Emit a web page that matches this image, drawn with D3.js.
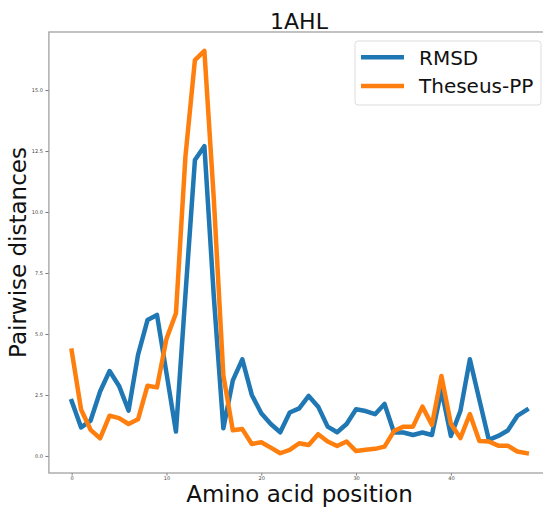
<!DOCTYPE html>
<html>
<head>
<meta charset="utf-8">
<script src="https://cdn.jsdelivr.net/npm/d3@7"></script>
<style>
html,body{margin:0;padding:0;background:#fff;}
svg{display:block;}
</style>
</head>
<body>
<svg id="chart" width="543" height="512"></svg>
<script>
const positions = [0,1,2,3,4,5,6,7,8,9,10,11,12,13,14,15,16,17,18,19,20,21,22,23,24,25,26,27,28,29,30,31,32,33,34,35,36,37,38,39,40,41,42,43,44,45,46,47,48];
const rmsd = [2.25,1.17,1.45,2.64,3.48,2.87,1.86,4.14,5.57,5.78,3.4,1.0,6.6,12.13,12.7,6.5,1.13,3.1,3.96,2.5,1.75,1.31,0.97,1.78,1.95,2.46,2.02,1.2,0.97,1.31,1.91,1.84,1.71,2.13,0.96,0.96,0.86,0.96,0.86,2.7,0.82,1.84,3.96,2.3,0.66,0.82,1.04,1.64,1.89];
const theseus = [4.32,1.89,1.07,0.72,1.65,1.55,1.31,1.5,2.88,2.81,4.8,5.85,12.27,16.23,16.61,10.5,3.3,1.05,1.1,0.49,0.56,0.34,0.11,0.25,0.52,0.45,0.89,0.59,0.41,0.59,0.2,0.25,0.29,0.38,1.02,1.2,1.2,2.02,1.27,3.28,1.31,0.73,1.72,0.61,0.59,0.42,0.42,0.18,0.11];
const xTicks = [0,10,20,30,40];
const yTicks = [0,2.5,5,7.5,10,12.5,15];
const seriesNames = ["RMSD","Theseus-PP"];
const colors = ["#1f77b4","#ff7f0e"];
const title = "1AHL";
const xLabel = "Amino acid position";
const yLabel = "Pairwise distances";

const svg = d3.select("#chart");
const L = 48.9, R = 549.5, T = 32, B = 473;
const x = d3.scaleLinear().domain([-2.4, 50.4]).range([L, R]);
const y = d3.scaleLinear().domain([-0.70, 17.38]).range([B, T]);
const font = "DejaVu Sans, sans-serif";

// axes
const xAxis = d3.axisBottom(x).tickValues(xTicks).tickFormat(d3.format("d")).tickSize(2.5).tickPadding(0.5);
const yAxis = d3.axisLeft(y).tickValues(yTicks).tickFormat(d3.format(".1f")).tickSize(3.5).tickPadding(2.5);
const gx = svg.append("g").attr("transform", `translate(0,${B})`).call(xAxis);
const gy = svg.append("g").attr("transform", `translate(${L},0)`).call(yAxis);
[gx, gy].forEach(g => {
  g.selectAll(".domain").remove();
  g.selectAll("line").attr("stroke", "#555").attr("stroke-width", 0.8);
  g.selectAll("text").attr("fill", "#444").style("font-family", font).style("font-size", "5px");
});

// frame
svg.append("rect").attr("x", L).attr("y", T).attr("width", R - L).attr("height", B - T)
  .attr("fill", "none").attr("stroke", "#999").attr("stroke-width", 1.2);

// lines
const line = d3.line().x((d, i) => x(positions[i])).y(d => y(d));
[rmsd, theseus].forEach((s, k) => {
  svg.append("path").datum(s).attr("d", line).attr("fill", "none")
    .attr("stroke", colors[k]).attr("stroke-width", 4.5)
    .attr("stroke-linejoin", "round").attr("stroke-linecap", "square");
});

// title and labels
svg.append("text").attr("x", 299).attr("y", 29).attr("text-anchor", "middle")
  .style("font-family", font).style("font-size", "22px").attr("fill", "#111").text(title);
svg.append("text").attr("x", 299.5).attr("y", 502).attr("text-anchor", "middle")
  .style("font-family", font).style("font-size", "23px").attr("fill", "#111").text(xLabel);
svg.append("text").attr("transform", "translate(26,252.5) rotate(-90)").attr("text-anchor", "middle")
  .style("font-family", font).style("font-size", "23px").attr("fill", "#111").text(yLabel);

// legend
const lg = svg.append("g");
lg.append("rect").attr("x", 355).attr("y", 41).attr("width", 186).attr("height", 64).attr("rx", 3)
  .attr("fill", "#fff").attr("fill-opacity", 0.8).attr("stroke", "#ddd").attr("stroke-width", 1);
seriesNames.forEach((n, k) => {
  const yy = 57.3 + k * 28.7;
  lg.append("line").attr("x1", 361).attr("x2", 404).attr("y1", yy).attr("y2", yy)
    .attr("stroke", colors[k]).attr("stroke-width", 4.5);
  lg.append("text").attr("x", 419).attr("y", yy).attr("dy", "0.36em")
    .style("font-family", font).style("font-size", "20px").attr("fill", "#111").text(n);
});
</script>
</body>
</html>
